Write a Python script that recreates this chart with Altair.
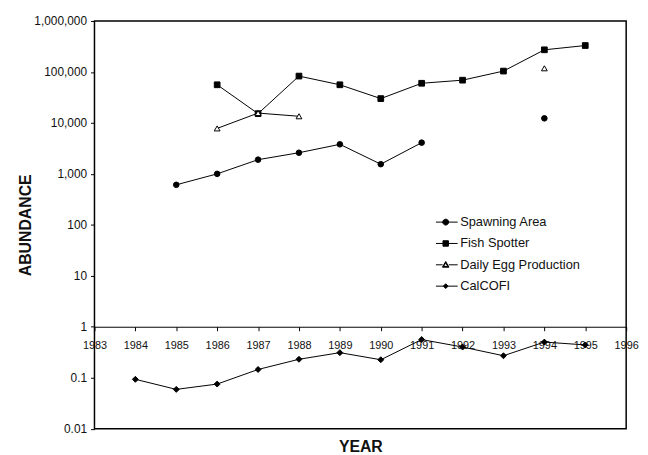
import altair as alt
import pandas as pd

series_names = ["Spawning Area", "Fish Spotter", "Daily Egg Production", "CalCOFI"]

sa_years = [1985, 1986, 1987, 1988, 1989, 1990, 1991, 1994]
sa_values = [610, 1000, 1900, 2600, 3800, 1550, 4100, 12300]

fs_years = [1986, 1987, 1988, 1989, 1990, 1991, 1992, 1993, 1994, 1995]
fs_values = [56000, 15200, 83000, 56000, 30000, 60000, 69000, 104000, 272000, 330000]

dep_years = [1986, 1987, 1988, 1994]
dep_values = [7800, 15600, 13500, 118000]

cc_years = [1984, 1985, 1986, 1987, 1988, 1989, 1990, 1991, 1992, 1993, 1994, 1995]
cc_values = [0.093, 0.059, 0.075, 0.145, 0.23, 0.31, 0.225, 0.56, 0.40, 0.27, 0.50, 0.44]

x_ticks = list(range(1983, 1997))
y_ticks = [0.01, 0.1, 1, 10, 100, 1000, 10000, 100000, 1000000]

rows = []
for name, yrs, vals in [
    ("Spawning Area", sa_years, sa_values),
    ("Fish Spotter", fs_years, fs_values),
    ("Daily Egg Production", dep_years, dep_values),
    ("CalCOFI", cc_years, cc_values),
]:
    seg = 0
    prev = None
    for yr, v in zip(yrs, vals):
        if prev is not None and yr - prev > 1:
            seg += 1
        rows.append({"series": name, "year": yr, "value": v, "segment": f"{name}-{seg}"})
        prev = yr
df = pd.DataFrame(rows)

W, H = 538, 412.5
FONT = "Liberation Sans"
TXT = "#111111"
axis_offset = -H * 2 / 8  # y = 1 sits two decades above the bottom of an 8-decade axis

x_enc = alt.X(
    "year:Q",
    scale=alt.Scale(domain=[1983, 1996], nice=False, zero=False),
    axis=alt.Axis(
        values=x_ticks, format="d", offset=axis_offset, title="YEAR",
        tickSize=4, labelPadding=9, labelFontSize=11, grid=False,
        labelFlush=False, labelOverlap=False, labelColor=TXT,
        domainColor="black", domainWidth=1, tickColor="black",
        titleFontSize=16, titleFontWeight="bold",
        titleX=W / 2, titleY=121, titleAlign="center", titleBaseline="middle",
    ),
)
y_enc = alt.Y(
    "value:Q",
    scale=alt.Scale(type="log", domain=[0.01, 1000000], nice=False),
    axis=alt.Axis(
        values=y_ticks, format=",", title="ABUNDANCE", domain=False, grid=False,
        tickSize=4, labelPadding=4, labelFontSize=12, tickColor="black",
        labelFlush=False, labelOverlap=False, labelColor=TXT,
        titleFontSize=16, titleFontWeight="bold", titleAngle=270,
        titleX=-69.5, titleY=H / 2, titleAlign="center", titleBaseline="middle",
    ),
)

lines = alt.Chart(df).mark_line(color="black", strokeWidth=1).encode(
    x=x_enc, y=y_enc, detail="segment:N"
)

points = alt.Chart(df).mark_point(stroke="black", strokeWidth=1, opacity=1).encode(
    x=x_enc,
    y=y_enc,
    shape=alt.Shape("series:N", scale=alt.Scale(domain=series_names,
                    range=["circle", "square", "triangle-up", "diamond"]), legend=None),
    fill=alt.Fill("series:N", scale=alt.Scale(domain=series_names,
                  range=["black", "black", "white", "black"]), legend=None),
    size=alt.Size("series:N", scale=alt.Scale(domain=series_names,
                  range=[32, 36, 44, 30]), legend=None),
)

legend_paths = [
    "M-1,0H1M-0.37,0A0.27,0.27,0,1,0,0.17,0A0.27,0.27,0,1,0,-0.37,0Z",
    "M-1,0H1M-0.35,-0.25H0.15V0.25H-0.35Z",
    "M-1,0H-0.38M0.18,0H1M-0.1,-0.3L0.2,0.22L-0.4,0.22ZM-0.1,-0.2L-0.29,0.15L0.09,0.15Z",
    "M-1,0H1M-0.1,-0.22L0.12,0L-0.1,0.22L-0.32,0Z",
]

leg = alt.Legend(
    title=None, orient="none", legendX=345, legendY=192, padding=0,
    symbolSize=484, labelFontSize=13, labelFont=FONT, labelColor=TXT,
    labelOffset=2, rowPadding=2.6, symbolStrokeWidth=1, symbolOpacity=1,
)

legend_layer = alt.Chart(df).transform_filter("false").mark_point(
    strokeWidth=1, opacity=1
).encode(
    x=x_enc,
    y=y_enc,
    shape=alt.Shape("series:N", scale=alt.Scale(domain=series_names, range=legend_paths), legend=leg),
    fill=alt.Fill("series:N", scale=alt.Scale(domain=series_names,
                  range=["black", "black", "black", "black"]), legend=leg),
    stroke=alt.Stroke("series:N", scale=alt.Scale(domain=series_names,
                      range=["black", "black", "black", "black"]), legend=leg),
)

chart = alt.layer(lines, points, legend_layer).resolve_scale(
    shape="independent", fill="independent", stroke="independent"
).properties(
    width=W, height=H,
    autosize=alt.AutoSizeParams(type="none"),
    padding={"left": 87.5, "top": 10.5, "right": 14, "bottom": 24},
).configure_view(
    stroke="black", strokeWidth=1.5
).configure_axis(
    labelFont=FONT, titleFont=FONT, labelColor=TXT, titleColor=TXT
)

chart.save("out.html", embed_options={"renderer": "svg", "actions": False})
